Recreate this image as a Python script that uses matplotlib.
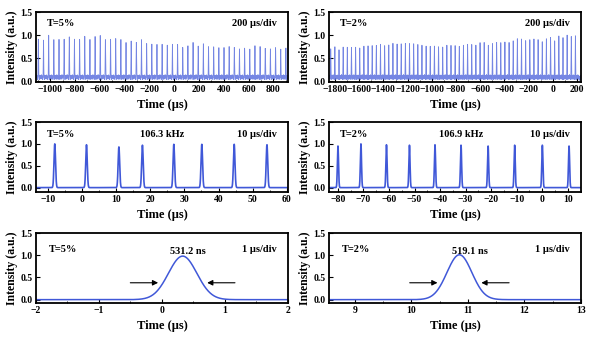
import matplotlib
matplotlib.use('Agg')
import matplotlib.pyplot as plt
from matplotlib.ticker import MultipleLocator
import numpy as np

# pulse-train peak heights (200 us/div traces)
train5_heights = [0.91, 0.89, 1.00, 0.91, 0.91, 0.91, 0.96, 0.91, 0.91, 0.98,
                  0.91, 0.97, 0.99, 0.90, 0.91, 0.93, 0.91, 0.84, 0.87, 0.84,
                  0.90, 0.82, 0.81, 0.80, 0.80, 0.78, 0.80, 0.80, 0.74, 0.77,
                  0.84, 0.76, 0.81, 0.75, 0.75, 0.73, 0.73, 0.75, 0.73, 0.70,
                  0.72, 0.70, 0.77, 0.75, 0.71, 0.70, 0.73, 0.70, 0.72]
train5_start, train5_period = -1096.0, 41.58

train2_heights = [0.70, 0.75, 0.68, 0.74, 0.74, 0.73, 0.74, 0.72, 0.76, 0.77,
                  0.77, 0.78, 0.80, 0.77, 0.79, 0.82, 0.81, 0.81, 0.82, 0.82,
                  0.81, 0.80, 0.78, 0.76, 0.76, 0.76, 0.75, 0.74, 0.78, 0.78,
                  0.77, 0.76, 0.78, 0.80, 0.80, 0.78, 0.84, 0.84, 0.78, 0.82,
                  0.84, 0.84, 0.85, 0.84, 0.88, 0.92, 0.92, 0.88, 0.90, 0.92,
                  0.90, 0.86, 0.92, 0.95, 0.88, 0.98, 0.95, 1.00, 0.97, 0.99]
train2_start, train2_period = -1836.0, 34.3

# noise floor between spikes (fraction of period -> level)
floor_phase = [0.0, 0.04, 0.10, 0.17, 0.25, 0.33, 0.42, 0.50,
               0.58, 0.67, 0.75, 0.83, 0.92, 1.0]
floor_level = [0.10, 0.01, 0.09, 0.03, 0.13, 0.05, 0.12, 0.04,
               0.14, 0.06, 0.12, 0.03, 0.11, 0.10]

# 10 us/div traces: pulse times (us) and peaks
mid5_times = [-8.0, 1.3, 10.8, 17.7, 26.9, 35.1, 44.6, 54.2]
mid5_heights = [1.00, 0.98, 0.93, 0.97, 0.99, 0.99, 0.99, 0.98]
mid2_times = [-80.0, -71.0, -61.0, -52.0, -42.0, -31.8, -21.2, -10.8, 0.05, 10.5]
mid2_heights = [0.95, 1.00, 0.98, 0.97, 0.98, 0.97, 0.95, 0.97, 0.97, 0.95]

# single pulses: centre (us), peak, FWHM (ns)
pulse5 = dict(center=0.33, peak=0.98, fwhm_ns=531.2)
pulse2 = dict(center=10.85, peak=1.01, fwhm_ns=519.1)

BLUE = '#4058d8'

plt.rcParams['font.family'] = ['Liberation Serif', 'DejaVu Serif']
plt.rcParams['font.weight'] = 'bold'
plt.rcParams['axes.labelweight'] = 'bold'
plt.rcParams['mathtext.default'] = 'regular'


def gauss(t, c, h, fwhm):
    s = fwhm / 2.3548
    return h * np.exp(-(t - c) ** 2 / (2 * s ** 2))


def train_trace(start, period, heights, xlim):
    t = np.arange(xlim[0], xlim[1], 0.5)
    ph = ((t - start) / period) % 1.0
    y = np.interp(ph, floor_phase, floor_level)
    for k, h in enumerate(heights):
        y = np.maximum(y, gauss(t, start + k * period, h, 4.0))
    return t, y


def style(ax, xlim, ylim, xmaj, xmin):
    ax.set_xlim(*xlim)
    ax.set_ylim(*ylim)
    ax.xaxis.set_major_locator(MultipleLocator(xmaj))
    ax.xaxis.set_minor_locator(MultipleLocator(xmin))
    ax.yaxis.set_major_locator(MultipleLocator(0.5))
    ax.yaxis.set_major_formatter(matplotlib.ticker.FormatStrFormatter('%.1f'))
    ax.tick_params(direction='in', which='both', labelsize=7, pad=2.5,
                   top=False, right=False)
    ax.tick_params(which='major', length=3, width=0.8)
    ax.tick_params(which='minor', length=1.8, width=0.6)
    for s in ax.spines.values():
        s.set_linewidth(1.3)
    ax.set_xlabel('Time (μs)', fontsize=9, labelpad=3)
    ax.set_ylabel('Intensity (a.u.)', fontsize=8.5, labelpad=2)


def txt(ax, x, y, s, ha='left'):
    ax.text(x, y, s, transform=ax.transAxes, ha=ha, va='center',
            fontsize=7.5, fontweight='bold')


fig = plt.figure(figsize=(5.98, 3.38), dpi=100)
lefts = [0.0602, 0.5502]
w = 0.421
bottoms = [0.7574, 0.432, 0.1036]
h = 0.207

axs = [[fig.add_axes([l, b, w, h]) for l in lefts] for b in bottoms]

# row 1: long pulse trains
for ax, (st, per, hs, xl, lab) in zip(axs[0], [
        (train5_start, train5_period, train5_heights, (-1115, 915), 'T=5%'),
        (train2_start, train2_period, train2_heights, (-1850, 232), 'T=2%')]):
    t, y = train_trace(st, per, hs, xl)
    ax.plot(t, y, color='#5268dc', lw=0.6, alpha=0.8)
    style(ax, xl, (-0.02, 1.5), 200, 100)
    txt(ax, 0.045, 0.83, lab)
    txt(ax, 0.955, 0.83, '200 μs/div', ha='right')

# row 2: 10 us/div
for ax, (times, hs, xl, lab, freq, fx) in zip(axs[1], [
        (mid5_times, mid5_heights, (-13.5, 60.3), 'T=5%', '106.3 kHz', 0.5),
        (mid2_times, mid2_heights, (-83.5, 15.1), 'T=2%', '106.9 kHz', 0.525)]):
    t = np.linspace(xl[0], xl[1], 6000)
    y = np.zeros_like(t)
    for c, hh in zip(times, hs):
        y += gauss(t, c, hh, 0.53)
    ax.plot(t, y, color=BLUE, lw=1.2)
    style(ax, xl, (-0.1, 1.5), 10, 5)
    txt(ax, 0.045, 0.82, lab)
    txt(ax, fx, 0.82, freq, ha='center')
    txt(ax, 0.955, 0.82, '10 μs/div', ha='right')

# row 3: single pulse with FWHM arrows
for ax, (p, xl, lab, alen, tx) in zip(axs[2], [
        (pulse5, (-2, 2), 'T=5%', 0.53, 0.41),
        (pulse2, (8.54, 13), 'T=2%', 0.59, 11.04)]):
    fw = p['fwhm_ns'] / 1000.0
    t = np.linspace(xl[0], xl[1], 2000)
    ax.plot(t, gauss(t, p['center'], p['peak'], fw), color=BLUE, lw=1.1)
    style(ax, xl, (-0.075, 1.5), 1, 0.5)
    gap = fw / 2 + 0.08
    ya = 0.38
    for sgn in (-1, 1):
        head = p['center'] + sgn * gap
        ax.annotate('', xy=(head, ya), xytext=(head + sgn * alen, ya),
                    arrowprops=dict(arrowstyle='-|>', color='black', lw=0.8,
                                    mutation_scale=8))
    ax.text(tx, 1.08, '%.1f ns' % p['fwhm_ns'], ha='center', va='center',
            fontsize=7.5, fontweight='bold')
    txt(ax, 0.05, 0.77, lab)
    txt(ax, 0.955, 0.77, '1 μs/div', ha='right')

fig.savefig('out.png', dpi=100)
